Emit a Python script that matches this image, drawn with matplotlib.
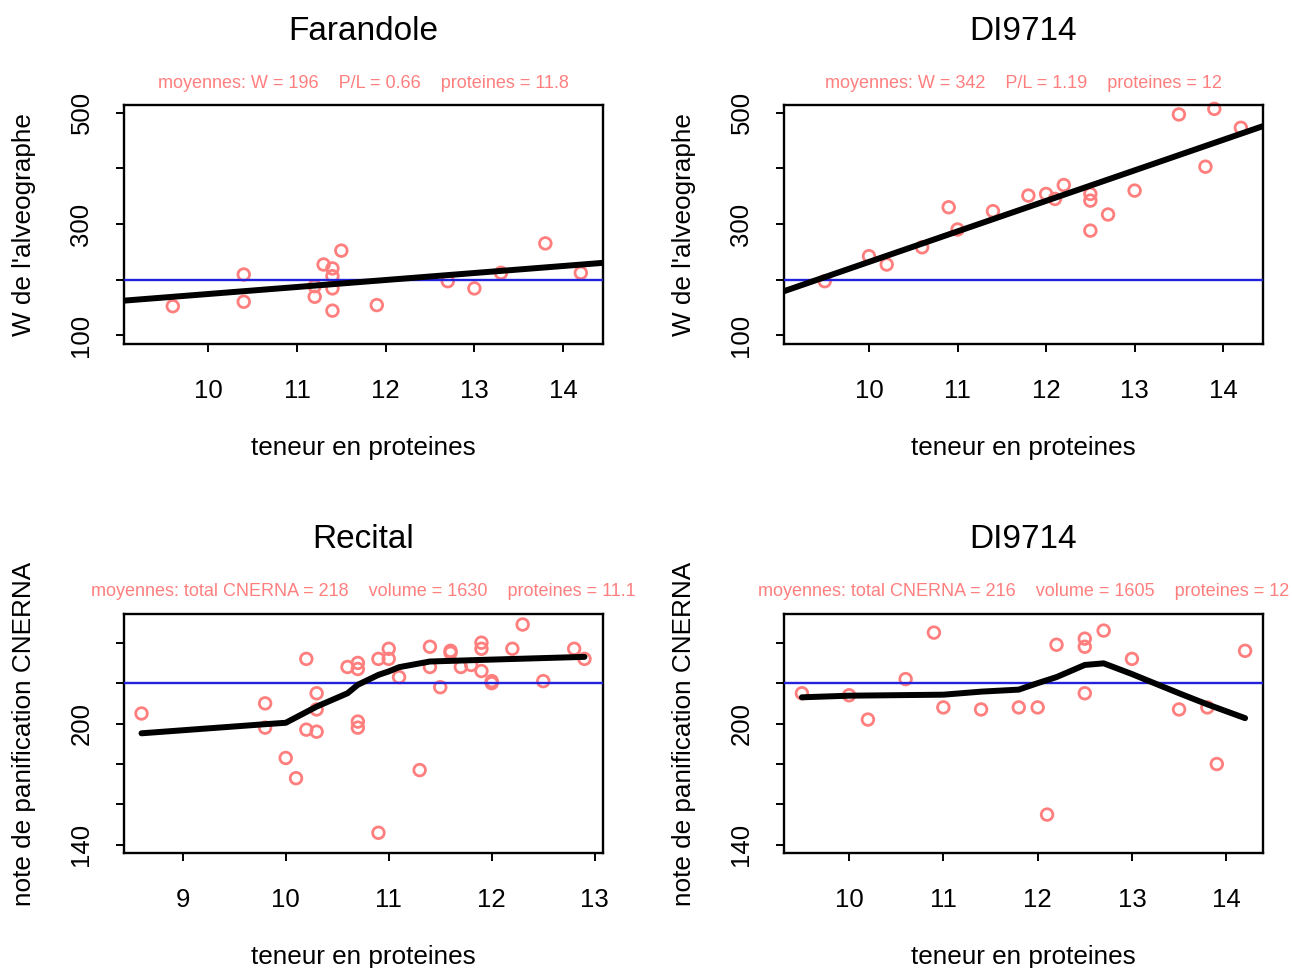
import matplotlib
matplotlib.use("Agg")
import matplotlib.pyplot as plt
import numpy as np

plt.rcParams['font.family'] = ['Liberation Sans', 'DejaVu Sans']

# ---------------- data ----------------
titles = ["Farandole", "DI9714", "Recital", "DI9714"]
subtitles = [
    "moyennes: W = 196    P/L = 0.66    proteines = 11.8",
    "moyennes: W = 342    P/L = 1.19    proteines = 12",
    "moyennes: total CNERNA = 218    volume = 1630    proteines = 11.1",
    "moyennes: total CNERNA = 216    volume = 1605    proteines = 12",
]
ylabels = ["W de l'alveographe", "W de l'alveographe",
           "note de panification CNERNA", "note de panification CNERNA"]
xlabel = "teneur en proteines"

# Farandole (W)
far_prot = [9.6, 10.4, 10.4, 11.2, 11.2, 11.3, 11.4, 11.4, 11.4, 11.4, 11.5,
            11.9, 12.7, 13.0, 13.3, 13.8, 14.2]
far_W = [152, 209, 160, 188, 169, 227, 220, 206, 184, 144, 252,
         154, 197, 184, 212, 265, 212]
far_fit_x = [9.05, 14.45]
far_fit_y = [162, 230]

# DI9714 (W)
di_prot = [9.5, 10.0, 10.2, 10.6, 10.9, 11.0, 11.4, 11.8, 12.0, 12.1, 12.2,
           12.5, 12.5, 12.5, 12.7, 13.0, 13.5, 13.8, 13.9, 14.2]
di_W = [197, 242, 227, 258, 330, 290, 323, 351, 354, 345, 370,
        354, 342, 288, 317, 360, 497, 403, 507, 473]
di_fit_x = [9.04, 14.45]
di_fit_y = [179, 476]

# Recital (CNERNA)
rec_prot = [8.6, 9.8, 9.8, 10.0, 10.1, 10.2, 10.2, 10.3, 10.3, 10.3,
            10.6, 10.7, 10.7, 10.7, 10.7, 10.9, 10.9, 11.0, 11.0, 11.1,
            11.3, 11.4, 11.4, 11.5, 11.6, 11.6, 11.7, 11.8, 11.9, 11.9,
            11.9, 12.0, 12.0, 12.2, 12.3, 12.5, 12.8, 12.9]
rec_note = [205, 210, 198, 183, 173, 232, 197, 215, 207, 196,
            228, 230, 227, 201, 198, 232, 146, 237, 232, 223,
            177, 238, 228, 218, 236, 235, 228, 229, 240, 237,
            226, 221, 220, 237, 249, 221, 237, 232]
rec_smooth_x = [8.6, 9.8, 10.0, 10.3, 10.6, 10.7, 10.9, 11.0, 11.1, 11.4, 11.9, 12.9]
rec_smooth_y = [195.2, 199.7, 200.4, 208.4, 215.0, 219.2, 224.1, 225.8, 227.9, 230.7, 231.5, 233.0]

# DI9714 (CNERNA)
di2_prot = [9.5, 10.0, 10.2, 10.6, 10.9, 11.0, 11.4, 11.8, 12.0, 12.1,
            12.2, 12.5, 12.5, 12.5, 12.7, 13.0, 13.5, 13.8, 13.9, 14.2]
di2_note = [215, 214, 202, 222, 245, 208, 207, 208, 208, 155,
            239, 242, 238, 215, 246, 232, 207, 208, 180, 236]
di2_smooth_x = [9.5, 10.0, 11.0, 11.4, 11.8, 12.0, 12.2, 12.5, 12.7, 13.0, 13.5, 13.8, 14.2]
di2_smooth_y = [213.0, 213.8, 214.3, 215.8, 216.8, 220.0, 223.0, 229.0, 229.8, 224.5, 215.0, 209.5, 202.7]

ref_W = 200
ref_note = 220

# ---------------- figure ----------------
W, H = 1292, 968
fig = plt.figure(figsize=(W / 100, H / 100), dpi=100)

def fx(px):
    return px / W

def fy(py):
    return 1 - py / H

panels = [
    dict(box=(124, 105, 603, 344), x=far_prot, y=far_W, lx=far_fit_x, ly=far_fit_y,
         xlim=(9.05, 14.45), xt=[10, 11, 12, 13, 14], ylim=(84, 514),
         yt=[100, 200, 300, 400, 500], ylab=[100, 300, 500], ref=ref_W),
    dict(box=(784, 105, 1263, 344), x=di_prot, y=di_W, lx=di_fit_x, ly=di_fit_y,
         xlim=(9.04, 14.45), xt=[10, 11, 12, 13, 14], ylim=(84, 514),
         yt=[100, 200, 300, 400, 500], ylab=[100, 300, 500], ref=ref_W),
    dict(box=(124, 614, 603, 853), x=rec_prot, y=rec_note, lx=rec_smooth_x, ly=rec_smooth_y,
         xlim=(8.43, 13.08), xt=[9, 10, 11, 12, 13], ylim=(136, 254.2),
         yt=[140, 160, 180, 200, 220, 240], ylab=[140, 200], ref=ref_note),
    dict(box=(784, 614, 1263, 853), x=di2_prot, y=di2_note, lx=di2_smooth_x, ly=di2_smooth_y,
         xlim=(9.31, 14.39), xt=[10, 11, 12, 13, 14], ylim=(136, 254.2),
         yt=[140, 160, 180, 200, 220, 240], ylab=[140, 200], ref=ref_note),
]

pink = '#FF7F7F'
for i, p in enumerate(panels):
    x0, y0, x1, y1 = p['box']
    ax = fig.add_axes([fx(x0), fy(y1), fx(x1 - x0), (y1 - y0) / H])
    ax.scatter(p['x'], p['y'], s=70, facecolors='none', edgecolors=pink,
               linewidths=2.0, zorder=2, clip_on=False)
    ax.axhline(p['ref'], color='#2222DD', lw=1.7, zorder=3)
    ax.plot(p['lx'], p['ly'], color='black', lw=4.3, solid_capstyle='round', zorder=4)
    ax.set_xlim(*p['xlim'])
    ax.set_ylim(*p['ylim'])
    ax.set_xticks(p['xt'])
    ax.set_xticklabels([str(v) for v in p['xt']])
    ax.set_yticks(p['yt'])
    ax.set_yticklabels([str(v) if v in p['ylab'] else '' for v in p['yt']],
                       rotation=90, va='center')
    for s in ax.spines.values():
        s.set_linewidth(1.7)
    ax.tick_params(axis='both', length=6, width=1.4, labelsize=18.5)
    ax.tick_params(axis='x', pad=19)
    ax.tick_params(axis='y', pad=16)
    cx = (x0 + x1) / 2
    top = y0
    fig.text(fx(cx), fy(top - 74), titles[i], ha='center', va='center', fontsize=24)
    fig.text(fx(cx), fy(top - 22), subtitles[i], ha='center', va='center',
             fontsize=13, color=pink)
    fig.text(fx(cx), fy(y1 + 104), xlabel, ha='center', va='center', fontsize=18.8)
    fig.text(fx(x0 - 100), fy((y0 + y1) / 2), ylabels[i], ha='center', va='center',
             rotation=90, fontsize=18.8)

fig.savefig("out.png", dpi=100)
